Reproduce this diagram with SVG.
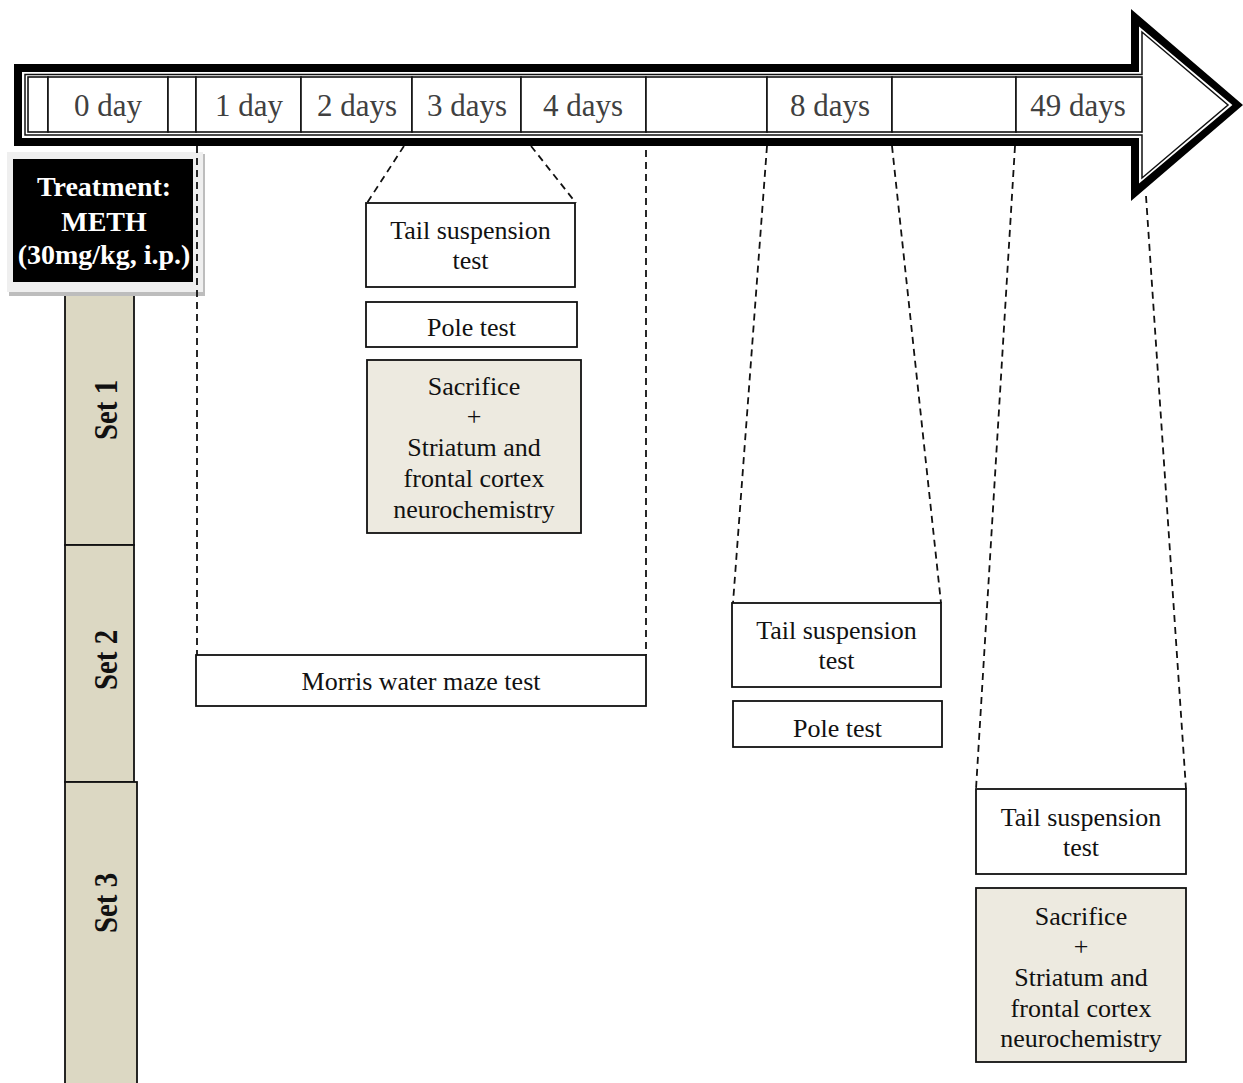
<svg xmlns="http://www.w3.org/2000/svg" width="1243" height="1083" viewBox="0 0 1243 1083">
<style>
text{font-family:"Liberation Serif","Times New Roman",serif}
.cell{fill:#fff;stroke:#111;stroke-width:1.6}
.ct{font-size:31px;fill:#404040;text-anchor:middle}
.box{fill:#fff;stroke:#111;stroke-width:1.8}
.sac{fill:#edeae0;stroke:#111;stroke-width:1.8}
.bt{font-size:26px;fill:#111;text-anchor:middle}
.set{fill:#dcd8c3;stroke:#111;stroke-width:1.8}
.st{font-size:34px;font-weight:bold;fill:#111;text-anchor:middle}
.tt{font-size:28px;font-weight:bold;fill:#fff;text-anchor:middle}
.dash{fill:none;stroke:#111;stroke-width:1.8;stroke-dasharray:7 5}
</style>
<rect width="1243" height="1083" fill="#fff"/>
<g id="arrow">
<polygon points="14,64 1131,64 1131,9 1243,105 1131,201 1131,146 14,146" fill="#000"/>
<polygon points="22,72 1139,72 1139,26.5 1232.4,105 1139,183.5 1139,138 22,138" fill="#fff"/>
<polygon points="25,74.5 1142,74.5 1142,32 1228,105 1142,178 1142,135 25,135" fill="#fff" stroke="#111" stroke-width="1.5"/>
</g>
<g id="cells">
<rect class="cell" x="28" y="77" width="20" height="55"/>
<rect class="cell" x="48" y="77" width="120" height="55"/>
<rect class="cell" x="168" y="77" width="28" height="55"/>
<rect class="cell" x="196" y="77" width="105" height="55"/>
<rect class="cell" x="301" y="77" width="111" height="55"/>
<rect class="cell" x="412" y="77" width="109" height="55"/>
<rect class="cell" x="521" y="77" width="125" height="55"/>
<rect class="cell" x="646" y="77" width="121" height="55"/>
<rect class="cell" x="767" y="77" width="125" height="55"/>
<rect class="cell" x="892" y="77" width="124" height="55"/>
<rect class="cell" x="1016" y="77" width="126" height="55"/>
<text class="ct" x="108" y="116">0 day</text>
<text class="ct" x="249" y="116">1 day</text>
<text class="ct" x="357" y="116">2 days</text>
<text class="ct" x="467" y="116">3 days</text>
<text class="ct" x="583" y="116">4 days</text>
<text class="ct" x="830" y="116">8 days</text>
<text class="ct" x="1078" y="116">49 days</text>
</g>
<g id="sets">
<g id="set1"><rect class="set" x="65" y="282" width="69" height="263"/><text class="st" transform="translate(117,410) rotate(-90) scale(0.85,1)">Set 1</text></g>
<g id="set2"><rect class="set" x="65" y="545" width="69" height="237"/><text class="st" transform="translate(117,660) rotate(-90) scale(0.85,1)">Set 2</text></g>
<g id="set3"><rect class="set" x="65" y="782" width="72" height="310"/><text class="st" transform="translate(117,903) rotate(-90) scale(0.85,1)">Set 3</text></g>
</g>
<g id="treatment">
<rect x="9" y="154" width="196" height="142" fill="#bdbdbd"/>
<rect x="7" y="152" width="196" height="140" fill="#efefef"/>
<rect x="13" y="159" width="180" height="123" fill="#000"/>
<text class="tt" x="104" y="196">Treatment:</text>
<text class="tt" x="104" y="231">METH</text>
<text class="tt" x="104" y="264">(30mg/kg, i.p.)</text>
</g>
<g id="connectors">
<line class="dash" x1="197" y1="146" x2="197" y2="655"/>
<line class="dash" x1="646" y1="150" x2="646" y2="655"/>
<line class="dash" x1="404" y1="146" x2="367" y2="203"/>
<line class="dash" x1="531" y1="146" x2="576" y2="203"/>
<line class="dash" x1="767" y1="146" x2="733" y2="603"/>
<line class="dash" x1="892" y1="146" x2="941" y2="603"/>
<line class="dash" x1="1015" y1="146" x2="976" y2="789"/>
<line class="dash" x1="1146" y1="196" x2="1186" y2="789"/>
</g>
<g id="set1-tail"><rect class="box" x="366" y="203" width="209" height="84"/><text class="bt" x="470.5" y="239">Tail suspension</text><text class="bt" x="470.5" y="269">test</text></g>
<g id="set1-pole"><rect class="box" x="366" y="302" width="211" height="45"/><text class="bt" x="471.5" y="336">Pole test</text></g>
<g id="set1-sacrifice"><rect class="sac" x="367" y="360" width="214" height="173"/>
<text class="bt" x="474" y="395">Sacrifice</text><text class="bt" x="474" y="425" fill="#444">+</text><text class="bt" x="474" y="456">Striatum and</text><text class="bt" x="474" y="487">frontal cortex</text><text class="bt" x="474" y="518">neurochemistry</text></g>
<g id="set2-morris"><rect class="box" x="196" y="655" width="450" height="51"/><text class="bt" x="421" y="690">Morris water maze test</text></g>
<g id="set2-tail"><rect class="box" x="732" y="603" width="209" height="84"/><text class="bt" x="836.5" y="639">Tail suspension</text><text class="bt" x="836.5" y="669">test</text></g>
<g id="set2-pole"><rect class="box" x="733" y="701" width="209" height="46"/><text class="bt" x="837.5" y="737">Pole test</text></g>
<g id="set3-tail"><rect class="box" x="976" y="789" width="210" height="85"/><text class="bt" x="1081" y="826">Tail suspension</text><text class="bt" x="1081" y="856">test</text></g>
<g id="set3-sacrifice"><rect class="sac" x="976" y="888" width="210" height="174"/>
<text class="bt" x="1081" y="925">Sacrifice</text><text class="bt" x="1081" y="955" fill="#444">+</text><text class="bt" x="1081" y="986">Striatum and</text><text class="bt" x="1081" y="1017">frontal cortex</text><text class="bt" x="1081" y="1047">neurochemistry</text></g>
</svg>
